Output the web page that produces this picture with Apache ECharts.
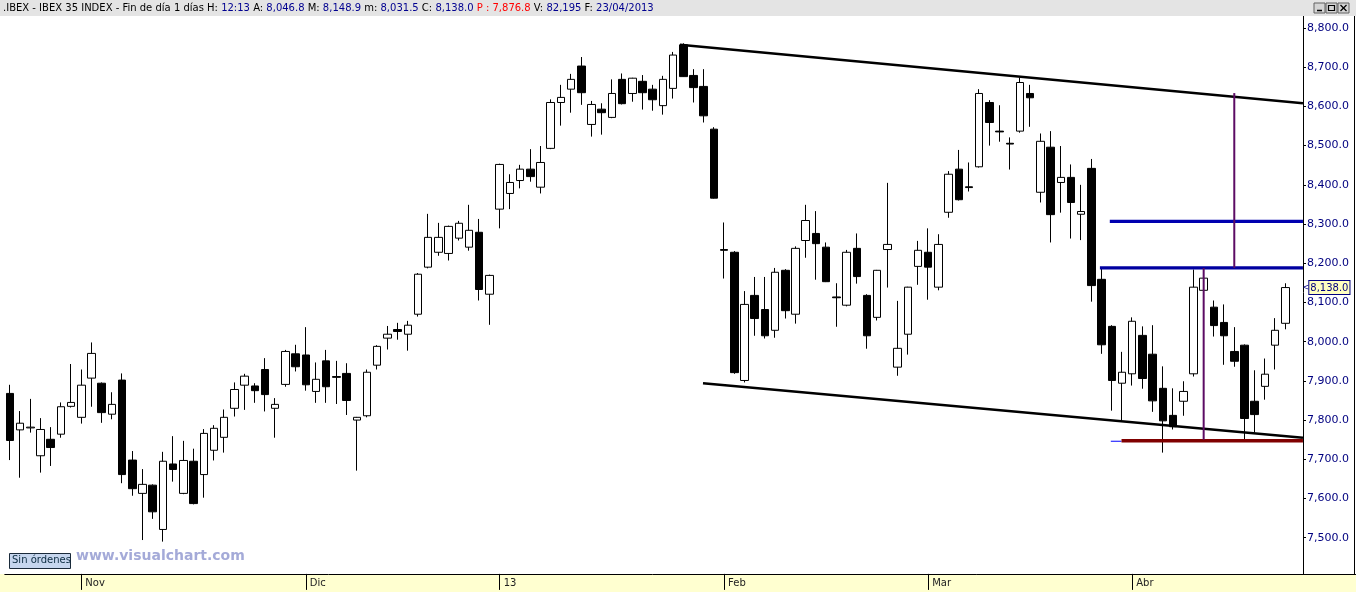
<!DOCTYPE html>
<html><head><meta charset="utf-8">
<script src="https://cdn.jsdelivr.net/npm/echarts@6/dist/echarts.min.js"></script>
<style>html,body{margin:0;padding:0;background:#fff;overflow:hidden}#c{width:1356px;height:592px}</style>
</head><body><div id="c"></div>
<script>
// ---- data ----
const dates = [
 '2012-10-23','2012-10-24','2012-10-25','2012-10-26','2012-10-29','2012-10-30','2012-10-31',
 '2012-11-01','2012-11-02','2012-11-05','2012-11-06','2012-11-07','2012-11-08','2012-11-09','2012-11-12','2012-11-13','2012-11-14','2012-11-15','2012-11-16','2012-11-19','2012-11-20','2012-11-21','2012-11-22','2012-11-23','2012-11-26','2012-11-27','2012-11-28','2012-11-29','2012-11-30',
 '2012-12-03','2012-12-04','2012-12-05','2012-12-06','2012-12-07','2012-12-10','2012-12-11','2012-12-12','2012-12-13','2012-12-14','2012-12-17','2012-12-18','2012-12-19','2012-12-20','2012-12-21','2012-12-24','2012-12-27','2012-12-28','2012-12-31',
 '2013-01-02','2013-01-03','2013-01-04','2013-01-07','2013-01-08','2013-01-09','2013-01-10','2013-01-11','2013-01-14','2013-01-15','2013-01-16','2013-01-17','2013-01-18','2013-01-21','2013-01-22','2013-01-23','2013-01-24','2013-01-25','2013-01-28','2013-01-29','2013-01-30','2013-01-31',
 '2013-02-01','2013-02-04','2013-02-05','2013-02-06','2013-02-07','2013-02-08','2013-02-11','2013-02-12','2013-02-13','2013-02-14','2013-02-15','2013-02-18','2013-02-19','2013-02-20','2013-02-21','2013-02-22','2013-02-25','2013-02-26','2013-02-27','2013-02-28',
 '2013-03-01','2013-03-04','2013-03-05','2013-03-06','2013-03-07','2013-03-08','2013-03-11','2013-03-12','2013-03-13','2013-03-14','2013-03-15','2013-03-18','2013-03-19','2013-03-20','2013-03-21','2013-03-22','2013-03-25','2013-03-26','2013-03-27','2013-03-28',
 '2013-04-02','2013-04-03','2013-04-04','2013-04-05','2013-04-08','2013-04-09','2013-04-10','2013-04-11','2013-04-12','2013-04-15','2013-04-16','2013-04-17','2013-04-18','2013-04-19','2013-04-22','2013-04-23'
];
const opens = [7868,7775,7780,7709,7751,7764,7835,7807,7907,7894,
 7815,7902,7698,7613,7634,7521,7688,7613,7695,7661,
 7723,7756,7830,7889,7887,7929,7830,7891,7969,7966,
 7873,7951,7911,7919,7800,7811,7940,8009,8031,8019,
 8070,8190,8228,8225,8264,8241,8279,8121,8338,8378,
 8411,8440,8394,8493,8610,8644,8703,8554,8593,8572,
 8669,8633,8664,8644,8602,8646,8757,8679,8651,8542,
 8235,8228,7901,8118,8082,8029,8182,8070,8258,8276,
 8241,8114,8093,8238,8118,8062,8235,7935,8019,8192,
 8228,8139,8330,8440,8395,8446,8610,8537,8506,8537,
 8633,8381,8496,8406,8419,8325,8442,8159,8039,7894,
 7918,8016,7968,7881,7812,7848,7918,8131,8088,8049,
 7975,7991,7848,7886,7991,8046.8];
const closes = [7748,7792,7782,7776,7730,7834,7845,7889,7970,7819,
 7840,7661,7625,7636,7566,7695,7674,7697,7587,7766,
 7779,7807,7878,7912,7875,7865,7840,7975,7936,7890,
 7904,7885,7909,7850,7807,7922,7988,8019,8026,8042,
 8172,8266,8266,8294,8302,8284,8133,8169,8452,8406,
 8440,8421,8457,8610,8623,8669,8635,8605,8584,8633,
 8607,8672,8635,8617,8669,8731,8676,8648,8576,8366,
 8233,7921,8095,8059,8015,8177,8079,8238,8309,8250,
 8153,8112,8228,8166,8015,8182,8248,7983,8139,8233,
 8190,8248,8427,8362,8393,8633,8559,8535,8504,8661,
 8622,8511,8324,8419,8355,8332,8143,7992,7901,7922,
 8052,7906,7849,7798,7783,7873,8139,8162,8041,8015,
 7950,7804,7814,7917,8029,8138.0];
const highs = [7890,7823,7854,7805,7782,7845,7943,7929,7998,7896,
 7871,7919,7721,7675,7636,7719,7759,7747,7727,7777,
 7787,7827,7896,7918,7894,7958,7856,7979,7992,8037,
 7947,7979,7951,7945,7808,7929,7991,8040,8048,8053,
 8175,8326,8303,8296,8308,8349,8313,8171,8454,8427,
 8451,8491,8499,8618,8655,8683,8726,8614,8608,8669,
 8684,8673,8680,8655,8678,8739,8761,8695,8695,8547,
 8304,8231,8129,8165,8165,8188,8185,8243,8349,8333,
 8253,8149,8234,8276,8121,8183,8405,8104,8140,8257,
 8289,8274,8435,8489,8457,8644,8616,8603,8521,8674,
 8655,8531,8537,8499,8452,8400,8466,8187,8042,7974,
 8062,8039,8042,7937,7881,7899,8184,8183,8105,8095,
 8037,7993,7927,7957,8060,8148.9];
const lows = [7698,7653,7768,7666,7683,7755,7832,7791,7834,7793,
 7802,7639,7607,7494,7548,7490,7643,7611,7585,7602,
 7697,7717,7809,7826,7844,7822,7755,7885,7924,7875,
 7844,7844,7841,7813,7671,7807,7929,7980,8005,7977,
 8064,8187,8219,8207,8258,8232,8105,8043,8289,8338,
 8391,8408,8378,8491,8551,8584,8604,8523,8528,8570,
 8605,8612,8592,8589,8579,8620,8675,8610,8559,8365,
 8161,7918,7896,8015,8008,8010,8059,8046,8214,8158,
 8152,8038,8090,8148,7982,8054,8138,7913,7967,8145,
 8107,8131,8316,8360,8383,8444,8500,8510,8439,8533,
 8548,8355,8253,8329,8263,8259,8102,7969,7824,7798,
 7888,7880,7821,7717,7776,7811,7911,8064,8013,7941,
 7936,7745,7768,7852,7929,8031.5];
const monthLabels = {'11':'Nov','12':'Dic','01':'13','02':'Feb','03':'Mar','04':'Abr'};
const yMin = 7400, yMax = 8850, yStep = 100, yLabelFrom = 7500;
// drawn studies: [bar index, price]
const upperTrend = [[65.67, 8757], [126.73, 8608]];
const lowerTrend = [[67.93, 7894], [126.73, 7755]];
const resistHigh = [[107.8, 8307], [126.73, 8307]];
const resistLow = [[106.83, 8188], [126.73, 8188]];
const supportLine = [[108.95, 7747], [126.73, 7747]];
const supportStub = [[107.9, 7746], [108.95, 7746]];
const measureA = [[120, 8634], [120, 8188]];
const measureB = [[117, 8188], [117, 7750]];
const header = {sym: '.IBEX - IBEX 35 INDEX - Fin de día 1 días', H: '12:13', A: '8,046.8', M: '8,148.9', m: '8,031.5', C: '8,138.0', P: '7,876.8', V: '82,195', F: '23/04/2013'};

// ---- chart ----
const N = dates.length;
const cats = dates.concat(['']);
const isMonthStart = (i) => i > 0 && i < N && dates[i].slice(5,7) !== dates[i-1].slice(5,7);
const fmt = (v) => v.toLocaleString('en-US', {minimumFractionDigits: 1, maximumFractionDigits: 1});
const FONT = 'DejaVu Sans';
const HFONT = '10px DejaVu Sans';
const lineS = (data, color, width) => ({
  type: 'line', xAxisIndex: 1, yAxisIndex: 0, data: data, symbol: 'none', clip: false, silent: true,
  lineStyle: {color: color, width: width}, z: 3, animation: false
});
const chart = echarts.init(document.getElementById('c'), null, {renderer: 'canvas'});
const last = closes[N-1];
chart.setOption({
  animation: false,
  backgroundColor: '#ffffff',
  grid: {left: 4.8, right: 55.4, top: 8.4, bottom: 15.1, containLabel: false},
  xAxis: [{
    type: 'category', data: cats, boundaryGap: true, position: 'bottom', offset: -3, z: 20,
    axisLine: {show: true, onZero: false, lineStyle: {color: '#000', width: 1}},
    axisTick: {show: true, alignWithLabel: true, interval: (i) => isMonthStart(i), length: 16, lineStyle: {color: '#000', width: 1}},
    axisLabel: {show: true, interval: (i) => isMonthStart(i), formatter: (v) => monthLabels[v.slice(5,7)] || '',
      align: 'left', padding: [0,0,0,4], margin: 5, color: '#222', fontFamily: FONT, fontSize: 10},
    splitLine: {show: false}
  }, {
    type: 'value', min: -0.5, max: N + 0.5, show: false
  }],
  yAxis: {
    type: 'value', position: 'right', min: yMin, max: yMax, interval: yStep, offset: 2.4,
    axisLine: {show: true, onZero: false, lineStyle: {color: '#000', width: 1}},
    axisTick: {show: true, length: 3, lineStyle: {color: '#000'}},
    axisLabel: {formatter: (v) => v >= yLabelFrom ? fmt(v) : '', color: '#000080', fontFamily: FONT, fontSize: 11, margin: 4},
    splitLine: {show: false}
  },
  series: [{
    type: 'candlestick', xAxisIndex: 0, yAxisIndex: 0, barWidth: 8,
    data: dates.map((d, i) => [opens[i], closes[i], lows[i], highs[i]]),
    itemStyle: {color: '#ffffff', color0: '#000000', borderColor: '#000000', borderColor0: '#000000', borderWidth: 1},
    emphasis: {disabled: true}, silent: true,
    markLine: {
      silent: true, symbol: 'none', animation: false,
      lineStyle: {color: 'rgba(0,0,0,0)', width: 0},
      label: {show: true, position: 'end', distance: 2,
        formatter: '{a|<}{b|' + fmt(last) + '}',
        rich: {
          a: {color: '#000080', fontFamily: FONT, fontSize: 8, padding: [0, 0, 0, 0]},
          b: {color: '#000080', fontFamily: FONT, fontSize: 10, backgroundColor: '#ffffc0', borderColor: '#000080', borderWidth: 1, padding: [2, 1, 1, 1]}
        }},
      data: [{yAxis: last}]
    }
  },
  lineS(upperTrend, '#000000', 2.5),
  lineS(lowerTrend, '#000000', 2.5),
  lineS(resistHigh, '#0000b0', 3.3),
  lineS(resistLow, '#0000a0', 3.3),
  lineS(supportStub, '#0000ff', 1),
  lineS(supportLine, '#800000', 3.5),
  lineS(measureA, '#5c0c64', 2),
  lineS(measureB, '#5c0c64', 2)
  ],
  graphic: {elements: [
    {type: 'rect', z: 10, shape: {x: 0, y: 0, width: 1356, height: 16}, style: {fill: '#e4e4e4'}, silent: true},
    {type: 'text', z: 11, x: 3, y: 3, silent: true, style: {
      text: '{k|' + header.sym + ' H: }{v|' + header.H + '}{k| A: }{v|' + header.A + '}{k| M: }{v|' + header.M + '}{k| m: }{v|' + header.m + '}{k| C: }{v|' + header.C + '}{r| P : ' + header.P + '}{k| V: }{v|' + header.V + '}{k| F: }{v|' + header.F + '}',
      font: HFONT, fill: '#000',
      rich: {k: {fill: '#000', font: HFONT}, v: {fill: '#000090', font: HFONT}, r: {fill: '#ff0000', font: HFONT}}
    }},
    {type: 'rect', z: 11, shape: {x: 1314, y: 3, width: 11, height: 10}, style: {fill: '#d4d4d4', stroke: '#606060', lineWidth: 1}, silent: true},
    {type: 'rect', z: 11, shape: {x: 1326, y: 3, width: 11, height: 10}, style: {fill: '#d4d4d4', stroke: '#606060', lineWidth: 1}, silent: true},
    {type: 'rect', z: 11, shape: {x: 1338, y: 3, width: 11, height: 10}, style: {fill: '#d4d4d4', stroke: '#606060', lineWidth: 1}, silent: true},
    {type: 'line', z: 12, shape: {x1: 1317, y1: 10.5, x2: 1322, y2: 10.5}, style: {stroke: '#000', lineWidth: 1.5}, silent: true},
    {type: 'rect', z: 12, shape: {x: 1328.5, y: 5.5, width: 6, height: 5}, style: {fill: 'none', stroke: '#000', lineWidth: 1.2}, silent: true},
    {type: 'line', z: 12, shape: {x1: 1340.5, y1: 5, x2: 1346.5, y2: 11}, style: {stroke: '#000', lineWidth: 1.3}, silent: true},
    {type: 'line', z: 12, shape: {x1: 1346.5, y1: 5, x2: 1340.5, y2: 11}, style: {stroke: '#000', lineWidth: 1.3}, silent: true},
    {type: 'rect', z: 10, shape: {x: 0, y: 574, width: 1356, height: 18}, style: {fill: '#ffffd0'}, silent: true},
    {type: 'line', z: 10, shape: {x1: 1300, y1: 574.5, x2: 1356, y2: 574.5}, style: {stroke: '#000', lineWidth: 1}, silent: true},
    {type: 'line', z: 10, shape: {x1: 1354.5, y1: 16, x2: 1354.5, y2: 574}, style: {stroke: '#000', lineWidth: 1}, silent: true},
    {type: 'rect', z: 11, shape: {x: 9.5, y: 553.5, width: 61, height: 15}, style: {fill: '#c6d6ee', stroke: '#1a2a3a', lineWidth: 1}, silent: true},
    {type: 'text', z: 12, x: 12, y: 555, silent: true, style: {text: 'Sin órdenes', font: '10px ' + FONT, fill: '#0b2b40'}},
    {type: 'text', z: 11, x: 76, y: 549, silent: true, style: {text: 'www.visualchart.com', font: 'bold 14px ' + FONT, fill: '#a4aad8'}}
  ]}
});
</script></body></html>
